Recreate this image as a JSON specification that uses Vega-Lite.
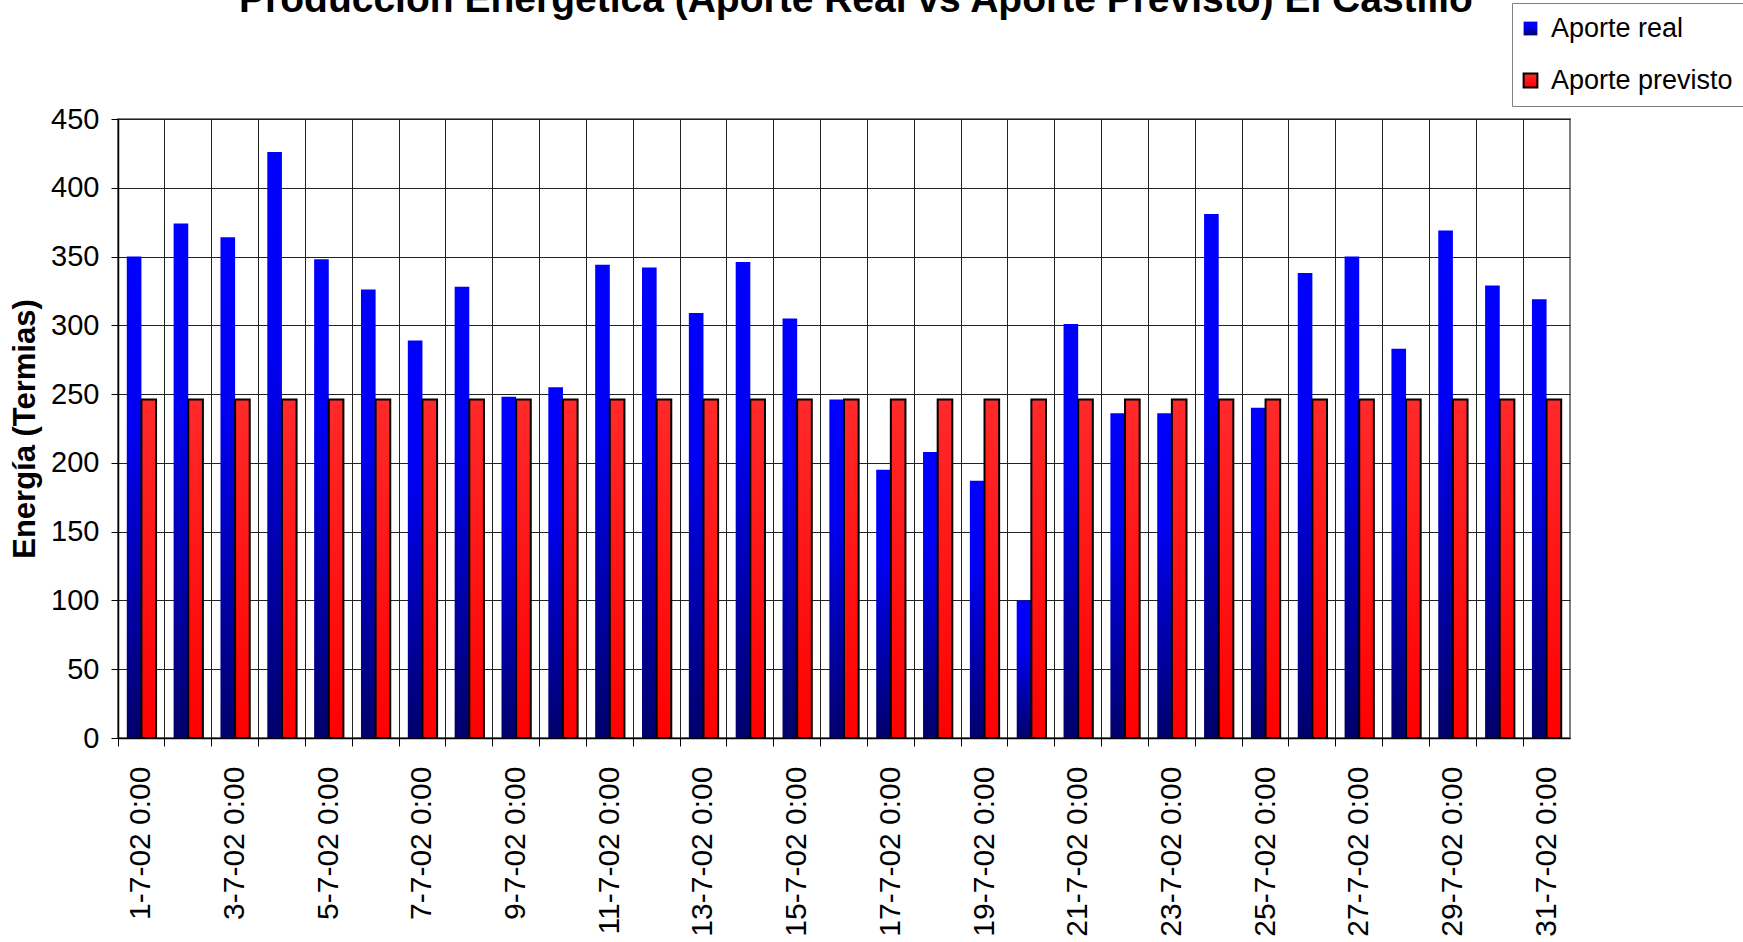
{
  "$schema": "https://vega.github.io/schema/vega-lite/v6.json",
  "autosize": {"type": "none"},
  "padding": {"left": 118, "top": 119, "right": 173, "bottom": 204},
  "width": 1452,
  "height": 619,
  "background": "white",
  "title": {
    "text": "Producción Energética (Aporte Real vs Aporte Previsto) El Castillo",
    "font": "Liberation Sans",
    "fontSize": 39,
    "fontWeight": "bold",
    "color": "black",
    "frame": "group",
    "anchor": "middle",
    "offset": 0,
    "dx": 12,
    "dy": 17
  },
  "data": {
    "values": [
      {"fecha": "1-7-02 0:00", "serie": "Aporte real", "valor": 350}, {"fecha": "1-7-02 0:00", "serie": "Aporte previsto", "valor": 246},
      {"fecha": "2-7-02 0:00", "serie": "Aporte real", "valor": 374}, {"fecha": "2-7-02 0:00", "serie": "Aporte previsto", "valor": 246},
      {"fecha": "3-7-02 0:00", "serie": "Aporte real", "valor": 364}, {"fecha": "3-7-02 0:00", "serie": "Aporte previsto", "valor": 246},
      {"fecha": "4-7-02 0:00", "serie": "Aporte real", "valor": 426}, {"fecha": "4-7-02 0:00", "serie": "Aporte previsto", "valor": 246},
      {"fecha": "5-7-02 0:00", "serie": "Aporte real", "valor": 348}, {"fecha": "5-7-02 0:00", "serie": "Aporte previsto", "valor": 246},
      {"fecha": "6-7-02 0:00", "serie": "Aporte real", "valor": 326}, {"fecha": "6-7-02 0:00", "serie": "Aporte previsto", "valor": 246},
      {"fecha": "7-7-02 0:00", "serie": "Aporte real", "valor": 289}, {"fecha": "7-7-02 0:00", "serie": "Aporte previsto", "valor": 246},
      {"fecha": "8-7-02 0:00", "serie": "Aporte real", "valor": 328}, {"fecha": "8-7-02 0:00", "serie": "Aporte previsto", "valor": 246},
      {"fecha": "9-7-02 0:00", "serie": "Aporte real", "valor": 248}, {"fecha": "9-7-02 0:00", "serie": "Aporte previsto", "valor": 246},
      {"fecha": "10-7-02 0:00", "serie": "Aporte real", "valor": 255}, {"fecha": "10-7-02 0:00", "serie": "Aporte previsto", "valor": 246},
      {"fecha": "11-7-02 0:00", "serie": "Aporte real", "valor": 344}, {"fecha": "11-7-02 0:00", "serie": "Aporte previsto", "valor": 246},
      {"fecha": "12-7-02 0:00", "serie": "Aporte real", "valor": 342}, {"fecha": "12-7-02 0:00", "serie": "Aporte previsto", "valor": 246},
      {"fecha": "13-7-02 0:00", "serie": "Aporte real", "valor": 309}, {"fecha": "13-7-02 0:00", "serie": "Aporte previsto", "valor": 246},
      {"fecha": "14-7-02 0:00", "serie": "Aporte real", "valor": 346}, {"fecha": "14-7-02 0:00", "serie": "Aporte previsto", "valor": 246},
      {"fecha": "15-7-02 0:00", "serie": "Aporte real", "valor": 305}, {"fecha": "15-7-02 0:00", "serie": "Aporte previsto", "valor": 246},
      {"fecha": "16-7-02 0:00", "serie": "Aporte real", "valor": 246}, {"fecha": "16-7-02 0:00", "serie": "Aporte previsto", "valor": 246},
      {"fecha": "17-7-02 0:00", "serie": "Aporte real", "valor": 195}, {"fecha": "17-7-02 0:00", "serie": "Aporte previsto", "valor": 246},
      {"fecha": "18-7-02 0:00", "serie": "Aporte real", "valor": 208}, {"fecha": "18-7-02 0:00", "serie": "Aporte previsto", "valor": 246},
      {"fecha": "19-7-02 0:00", "serie": "Aporte real", "valor": 187}, {"fecha": "19-7-02 0:00", "serie": "Aporte previsto", "valor": 246},
      {"fecha": "20-7-02 0:00", "serie": "Aporte real", "valor": 100}, {"fecha": "20-7-02 0:00", "serie": "Aporte previsto", "valor": 246},
      {"fecha": "21-7-02 0:00", "serie": "Aporte real", "valor": 301}, {"fecha": "21-7-02 0:00", "serie": "Aporte previsto", "valor": 246},
      {"fecha": "22-7-02 0:00", "serie": "Aporte real", "valor": 236}, {"fecha": "22-7-02 0:00", "serie": "Aporte previsto", "valor": 246},
      {"fecha": "23-7-02 0:00", "serie": "Aporte real", "valor": 236}, {"fecha": "23-7-02 0:00", "serie": "Aporte previsto", "valor": 246},
      {"fecha": "24-7-02 0:00", "serie": "Aporte real", "valor": 381}, {"fecha": "24-7-02 0:00", "serie": "Aporte previsto", "valor": 246},
      {"fecha": "25-7-02 0:00", "serie": "Aporte real", "valor": 240}, {"fecha": "25-7-02 0:00", "serie": "Aporte previsto", "valor": 246},
      {"fecha": "26-7-02 0:00", "serie": "Aporte real", "valor": 338}, {"fecha": "26-7-02 0:00", "serie": "Aporte previsto", "valor": 246},
      {"fecha": "27-7-02 0:00", "serie": "Aporte real", "valor": 350}, {"fecha": "27-7-02 0:00", "serie": "Aporte previsto", "valor": 246},
      {"fecha": "28-7-02 0:00", "serie": "Aporte real", "valor": 283}, {"fecha": "28-7-02 0:00", "serie": "Aporte previsto", "valor": 246},
      {"fecha": "29-7-02 0:00", "serie": "Aporte real", "valor": 369}, {"fecha": "29-7-02 0:00", "serie": "Aporte previsto", "valor": 246},
      {"fecha": "30-7-02 0:00", "serie": "Aporte real", "valor": 329}, {"fecha": "30-7-02 0:00", "serie": "Aporte previsto", "valor": 246},
      {"fecha": "31-7-02 0:00", "serie": "Aporte real", "valor": 319}, {"fecha": "31-7-02 0:00", "serie": "Aporte previsto", "valor": 246}
    ]
  },
  "mark": {"type": "bar", "strokeWidth": 2},
  "encoding": {
    "x": {
      "field": "fecha",
      "type": "ordinal",
      "sort": null,
      "scale": {"paddingInner": 0, "paddingOuter": 0},
      "axis": {
        "title": null,
        "bandPosition": 0,
        "grid": true,
        "gridColor": "#222222",
        "gridWidth": 1,
        "gridOpacity": 1,
        "ticks": true,
        "tickSize": 8,
        "tickColor": "black",
        "domainColor": "black",
        "domainWidth": 1.5,
        "labelAngle": 270,
        "labelFontSize": 30,
        "labelPadding": 20,
        "labelExpr": "toNumber(split(datum.value, '-')[0]) % 2 == 1 ? datum.value : ''"
      }
    },
    "xOffset": {
      "field": "serie",
      "type": "nominal",
      "sort": ["Aporte real", "Aporte previsto"],
      "scale": {"paddingInner": 0, "paddingOuter": 0.6}
    },
    "y": {
      "field": "valor",
      "type": "quantitative",
      "scale": {"domain": [0, 450], "nice": false},
      "axis": {
        "title": "Energía (Termias)",
        "titleFontSize": 31,
        "titleFontWeight": "bold",
        "titlePadding": 9,
        "values": [0, 50, 100, 150, 200, 250, 300, 350, 400, 450],
        "grid": true,
        "gridColor": "#222222",
        "gridWidth": 1,
        "gridOpacity": 1,
        "tickSize": 7,
        "tickColor": "black",
        "domainColor": "black",
        "domainWidth": 1.5,
        "labelFontSize": 29,
        "labelPadding": 12
      }
    },
    "fill": {
      "field": "serie",
      "type": "nominal",
      "scale": {
        "domain": ["Aporte real", "Aporte previsto"],
        "range": [
          {"expr": "{gradient: 'linear', x1: 0, y1: 0, x2: 0, y2: 1, stops: [{offset: 0, color: '#0000ff'}, {offset: 0.35, color: '#0000f2'}, {offset: 1, color: '#00006b'}]}"},
          {"expr": "{gradient: 'linear', x1: 0, y1: 0, x2: 0, y2: 1, stops: [{offset: 0, color: '#ff2a2a'}, {offset: 1, color: '#ff0000'}]}"}
        ]
      },
      "legend": {
        "title": null,
        "orient": "none",
        "legendX": 1394,
        "legendY": -116,
        "padding": 12,
        "strokeColor": "#808080",
        "fillColor": "white",
        "symbolType": "square",
        "symbolSize": 190,
        "symbolStrokeWidth": 2,
        "symbolOffset": -7,
        "labelFontSize": 27,
        "labelOffset": 7,
        "labelLimit": 0,
        "rowPadding": 24
      }
    },
    "stroke": {
      "field": "serie",
      "type": "nominal",
      "scale": {
        "domain": ["Aporte real", "Aporte previsto"],
        "range": ["rgba(0,0,0,0)", "black"]
      },
      "legend": null
    }
  },
  "config": {
    "font": "Liberation Sans",
    "view": {"stroke": "#808080", "strokeWidth": 2},
    "axis": {"labelColor": "black", "titleColor": "black", "labelFont": "Liberation Sans", "titleFont": "Liberation Sans"},
    "legend": {"labelColor": "black", "labelFont": "Liberation Sans"}
  }
}
